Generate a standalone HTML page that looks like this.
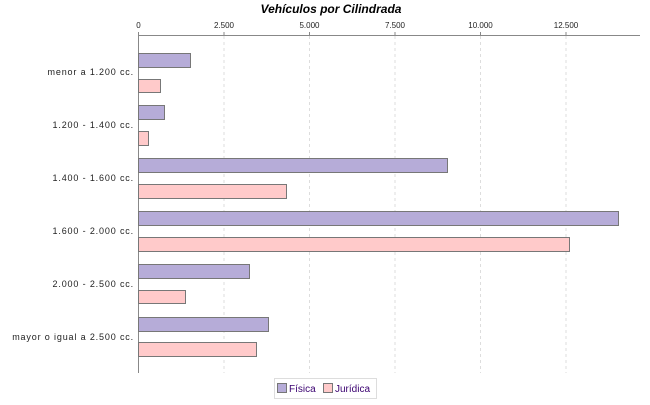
<!DOCTYPE html>
<html><head><style>
body{margin:0;background:#fff;}
svg text{font-family:"Liberation Sans",sans-serif;}
</style></head><body>
<svg width="650" height="400" xmlns="http://www.w3.org/2000/svg">
<rect width="650" height="400" fill="#fff"/>
<text x="331" y="13" font-size="12" font-weight="bold" font-style="italic" text-anchor="middle">Vehículos por Cilindrada</text>
<g stroke="#ddd" stroke-dasharray="3,3">
<line x1="224" y1="36" x2="224" y2="373"/><line x1="309.5" y1="36" x2="309.5" y2="373"/>
<line x1="395" y1="36" x2="395" y2="373"/><line x1="480.5" y1="36" x2="480.5" y2="373"/>
<line x1="566" y1="36" x2="566" y2="373"/>
</g>
<line x1="138.5" y1="35.5" x2="640" y2="35.5" stroke="#888"/>
<line x1="138.5" y1="35" x2="138.5" y2="373" stroke="#888"/>
<g stroke="#888"><line x1="138.5" y1="32" x2="138.5" y2="35"/><line x1="224" y1="32" x2="224" y2="35"/><line x1="309.5" y1="32" x2="309.5" y2="35"/><line x1="395" y1="32" x2="395" y2="35"/><line x1="480.5" y1="32" x2="480.5" y2="35"/><line x1="566" y1="32" x2="566" y2="35"/></g>
<g font-size="8" text-anchor="middle" fill="#222">
<text x="138.5" y="28">0</text><text x="224" y="28">2.500</text><text x="309.5" y="28">5.000</text><text x="395" y="28">7.500</text><text x="480.5" y="28">10.000</text><text x="566" y="28">12.500</text>
</g>
<g font-size="9" text-anchor="end" fill="#222" letter-spacing="0.85">
<text x="134" y="75">menor a 1.200 cc.</text>
<text x="134" y="128">1.200 - 1.400 cc.</text>
<text x="134" y="181">1.400 - 1.600 cc.</text>
<text x="134" y="234">1.600 - 2.000 cc.</text>
<text x="134" y="287">2.000 - 2.500 cc.</text>
<text x="134" y="340">mayor o igual a 2.500 cc.</text>
</g>
<g stroke="#777" stroke-width="1">
<g fill="#b6acd8">
<rect x="138.5" y="53.5" width="52" height="14"/>
<rect x="138.5" y="105.5" width="26" height="14"/>
<rect x="138.5" y="158.5" width="309" height="14"/>
<rect x="138.5" y="211.5" width="480" height="14"/>
<rect x="138.5" y="264.5" width="111" height="14"/>
<rect x="138.5" y="317.5" width="130" height="14"/>
</g>
<g fill="#ffcaca">
<rect x="138.5" y="79.5" width="22" height="13"/>
<rect x="138.5" y="131.5" width="10" height="14"/>
<rect x="138.5" y="184.5" width="148" height="14"/>
<rect x="138.5" y="237.5" width="431" height="14"/>
<rect x="138.5" y="290.5" width="47" height="13"/>
<rect x="138.5" y="342.5" width="118" height="14"/>
</g>
</g>
<rect x="274.5" y="378.5" width="102" height="20" fill="#fff" stroke="#ddd"/>
<rect x="277.5" y="383.5" width="9" height="9" fill="#b6acd8" stroke="#777"/>
<text x="289" y="392" font-size="10" fill="#3a0070">Física</text>
<rect x="323.5" y="383.5" width="9" height="9" fill="#ffcaca" stroke="#777"/>
<text x="335" y="392" font-size="10" fill="#3a0070">Jurídica</text>
</svg>
</body></html>
